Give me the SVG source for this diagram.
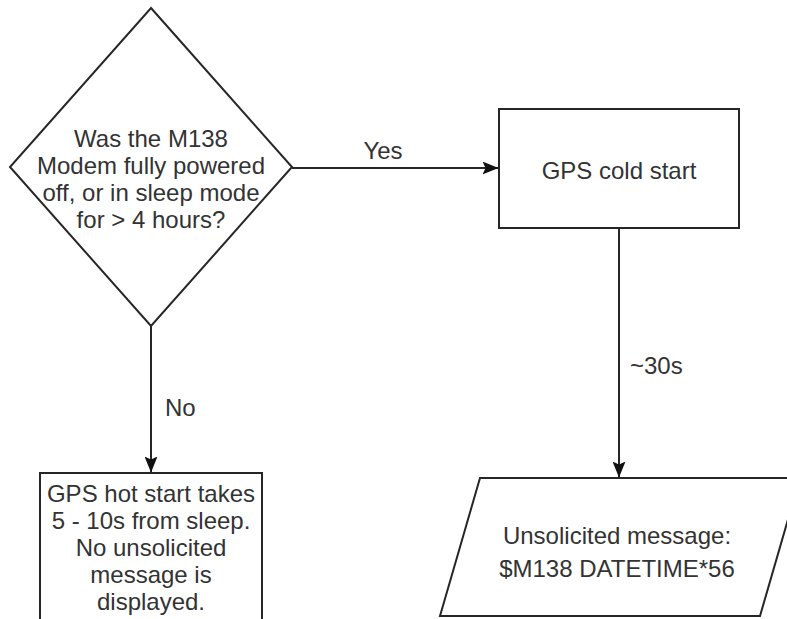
<svg xmlns="http://www.w3.org/2000/svg" width="787" height="619" viewBox="0 0 787 619">
<style>
.shape{fill:#ffffff;stroke:#262626;stroke-width:2}
.edge{fill:none;stroke:#262626;stroke-width:2}
.t{font-family:"Liberation Sans",Arial,sans-serif;font-size:24px;fill:#333333;text-anchor:middle;dominant-baseline:central}
.lbl{font-family:"Liberation Sans",Arial,sans-serif;font-size:24px;fill:#333333;dominant-baseline:central}
</style>
<defs>
<marker id="arrow" viewBox="0 0 16 13" refX="15.5" refY="6.5" markerWidth="16" markerHeight="13" markerUnits="userSpaceOnUse" orient="auto">
<path d="M0,0 L16,6.5 L0,13 L3,6.5 Z" fill="#111111"/>
</marker>
</defs>
<rect width="787" height="619" fill="#ffffff"/>
<g id="connectors">
<path class="edge" d="M292,168 L498,168" marker-end="url(#arrow)"/>
<text class="lbl" x="383" y="150" text-anchor="middle">Yes</text>
<path class="edge" d="M151,326 L151,472" marker-end="url(#arrow)"/>
<text class="lbl" x="165" y="407">No</text>
<path class="edge" d="M619,228 L619,477" marker-end="url(#arrow)"/>
<text class="lbl" x="630" y="365">~30s</text>
</g>
<g id="decision">
<polygon class="shape" points="151,8 292,167 151,326 10,167"/>
<text class="t" x="151" y="138">Was the M138</text>
<text class="t" x="151" y="165">Modem fully powered</text>
<text class="t" x="151" y="192">off, or in sleep mode</text>
<text class="t" x="151" y="219">for &gt; 4 hours?</text>
</g>
<g id="cold-start">
<rect class="shape" x="499" y="109" width="240" height="119"/>
<text class="t" x="619" y="170">GPS cold start</text>
</g>
<g id="hot-start">
<rect class="shape" x="40" y="473" width="222" height="160"/>
<text class="t" x="151" y="493">GPS hot start takes</text>
<text class="t" x="151" y="520">5 - 10s from sleep.</text>
<text class="t" x="151" y="547">No unsolicited</text>
<text class="t" x="151" y="574">message is</text>
<text class="t" x="151" y="601">displayed.</text>
</g>
<g id="message">
<polygon class="shape" points="480,478 800,478 760,616 440,616"/>
<text class="t" x="617" y="535">Unsolicited message:</text>
<text class="t" x="617" y="568">$M138 DATETIME*56</text>
</g>
</svg>
